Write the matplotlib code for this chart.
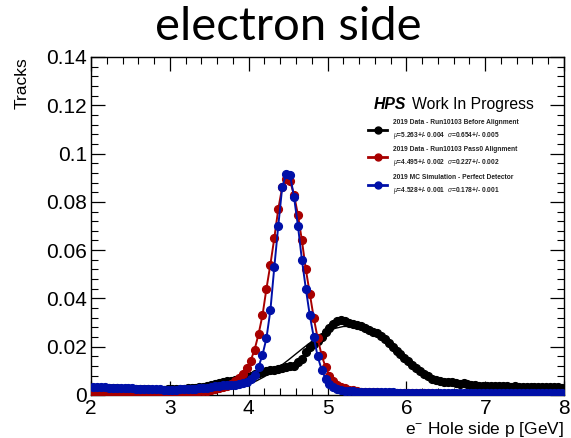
import numpy as np
import matplotlib
matplotlib.use("Agg")
import matplotlib.pyplot as plt
from matplotlib.lines import Line2D
from matplotlib.ticker import MultipleLocator

# ------------ data (bins of 0.05 GeV, 2 -> 8) ------------
bin_edges = np.linspace(2.0, 8.0, 121)
bin_centers = 0.5 * (bin_edges[1:] + bin_edges[:-1])

before_align = [
    0.0030, 0.0029, 0.0030, 0.0028, 0.0028, 0.0027, 0.0027, 0.0026, 0.0026, 0.0025,
    0.0025, 0.0024, 0.0024, 0.0023, 0.0023, 0.0022, 0.0022, 0.0022, 0.0022, 0.0023,
    0.0023, 0.0024, 0.0025, 0.0026, 0.0027, 0.0029, 0.0031, 0.0033, 0.0035, 0.0038,
    0.0041, 0.0044, 0.0048, 0.0052, 0.0056, 0.0060, 0.0064, 0.0068, 0.0072, 0.0076,
    0.0080, 0.0085, 0.0090, 0.0095, 0.0099, 0.0102, 0.0104, 0.0108, 0.0113, 0.0116,
    0.0118, 0.0122, 0.0135, 0.0150, 0.0180, 0.0198, 0.0210, 0.0225, 0.0240, 0.0262,
    0.0278, 0.0292, 0.0305, 0.0310, 0.0307, 0.0300, 0.0295, 0.0290, 0.0284, 0.0278,
    0.0270, 0.0262, 0.0255, 0.0245, 0.0230, 0.0215, 0.0198, 0.0182, 0.0168, 0.0154,
    0.0140, 0.0126, 0.0113, 0.0100, 0.0087, 0.0077, 0.0068, 0.0062, 0.0058, 0.0054,
    0.0052, 0.0055, 0.0050, 0.0047, 0.0049, 0.0045, 0.0042, 0.0040, 0.0039, 0.0038,
    0.0038, 0.0037, 0.0038, 0.0036, 0.0037, 0.0036, 0.0035, 0.0036, 0.0035, 0.0034,
    0.0035, 0.0034, 0.0034, 0.0033, 0.0034, 0.0033, 0.0032, 0.0033, 0.0032, 0.0031,
]

pass0_align = [
    0.0013, 0.0012, 0.0012, 0.0011, 0.0012, 0.0011, 0.0011, 0.0010, 0.0011, 0.0010,
    0.0010, 0.0010, 0.0009, 0.0010, 0.0009, 0.0009, 0.0010, 0.0009, 0.0010, 0.0010,
    0.0010, 0.0011, 0.0011, 0.0012, 0.0012, 0.0013, 0.0014, 0.0015, 0.0016, 0.0018,
    0.0021, 0.0024, 0.0028, 0.0033, 0.0039, 0.0047, 0.0058, 0.0072, 0.0088, 0.0110,
    0.0142, 0.0188, 0.0252, 0.0330, 0.0440, 0.0540, 0.0650, 0.0770, 0.0860, 0.0895,
    0.0885, 0.0830, 0.0745, 0.0640, 0.0520, 0.0420, 0.0320, 0.0235, 0.0165, 0.0115,
    0.0080, 0.0058, 0.0043, 0.0034, 0.0027, 0.0022, 0.0019, 0.0016, 0.0014, 0.0013,
    0.0012, 0.0011, 0.0011, 0.0010, 0.0010, 0.0009, 0.0009, 0.0009, 0.0008, 0.0008,
    0.0008, 0.0008, 0.0007, 0.0007, 0.0007, 0.0007, 0.0007, 0.0006, 0.0006, 0.0006,
    0.0006, 0.0006, 0.0005, 0.0006, 0.0006, 0.0005, 0.0006, 0.0005, 0.0005, 0.0006,
    0.0005, 0.0005, 0.0006, 0.0005, 0.0005, 0.0005, 0.0006, 0.0005, 0.0005, 0.0005,
    0.0005, 0.0005, 0.0005, 0.0004, 0.0005, 0.0005, 0.0004, 0.0005, 0.0004, 0.0005,
]

mc_perfect = [
    0.0035, 0.0034, 0.0033, 0.0032, 0.0031, 0.0031, 0.0030, 0.0029, 0.0028, 0.0028,
    0.0027, 0.0026, 0.0026, 0.0025, 0.0024, 0.0024, 0.0023, 0.0023, 0.0022, 0.0022,
    0.0022, 0.0022, 0.0023, 0.0023, 0.0024, 0.0025, 0.0026, 0.0027, 0.0029, 0.0031,
    0.0033, 0.0036, 0.0038, 0.0040, 0.0041, 0.0042, 0.0043, 0.0045, 0.0048, 0.0054,
    0.0066, 0.0083, 0.0117, 0.0166, 0.0235, 0.0350, 0.0530, 0.0700, 0.0860, 0.0915,
    0.0910, 0.0820, 0.0700, 0.0560, 0.0440, 0.0330, 0.0240, 0.0160, 0.0105, 0.0068,
    0.0045, 0.0032, 0.0025, 0.0021, 0.0018, 0.0016, 0.0015, 0.0014, 0.0013, 0.0013,
    0.0012, 0.0012, 0.0012, 0.0011, 0.0011, 0.0011, 0.0011, 0.0010, 0.0010, 0.0010,
    0.0010, 0.0010, 0.0010, 0.0009, 0.0009, 0.0009, 0.0009, 0.0009, 0.0009, 0.0009,
    0.0009, 0.0008, 0.0008, 0.0008, 0.0008, 0.0008, 0.0008, 0.0008, 0.0008, 0.0008,
    0.0008, 0.0008, 0.0008, 0.0007, 0.0008, 0.0007, 0.0007, 0.0008, 0.0007, 0.0007,
    0.0007, 0.0007, 0.0007, 0.0007, 0.0007, 0.0007, 0.0007, 0.0007, 0.0007, 0.0007,
]

# gaussian fit to the "before alignment" data, sampled from the drawn curve
fit_x = [4.0, 4.1, 4.2, 4.3, 4.4, 4.5, 4.6, 4.7, 4.8, 4.9, 5.0, 5.1, 5.2,
         5.3, 5.4, 5.5, 5.6, 5.7, 5.8, 5.9, 6.0, 6.1, 6.2, 6.3, 6.4, 6.5]
fit_y = [0.00442, 0.00586, 0.00760, 0.00964, 0.01193, 0.01442, 0.01705,
         0.01967, 0.02218, 0.02443, 0.02628, 0.02763, 0.02837, 0.02845,
         0.02788, 0.02668, 0.02496, 0.02280, 0.02035, 0.01774, 0.01510,
         0.01256, 0.01021, 0.00811, 0.00629, 0.00477]

labels = [
    "2019 Data - Run10103 Before Alignment\n$\\mu$=5.263+/- 0.004  $\\sigma$=0.654+/- 0.005",
    "2019 Data - Run10103 Pass0 Alignment\n$\\mu$=4.495+/- 0.002  $\\sigma$=0.227+/- 0.002",
    "2019 MC Simulation - Perfect Detector\n$\\mu$=4.528+/- 0.001  $\\sigma$=0.178+/- 0.001",
]
colors = ["black", "#a80000", "#0010a8"]

# ------------ plot ------------------------------------------------------
plt.rcParams["font.family"] = ["Liberation Sans", "DejaVu Sans"]
plt.rcParams["mathtext.fontset"] = "custom"
plt.rcParams["mathtext.rm"] = "Liberation Sans"
plt.rcParams["mathtext.it"] = "Liberation Sans:italic"

fig = plt.figure(figsize=(5.71, 4.38), dpi=100)
ax = fig.add_axes([0.1594, 0.0982, 0.8284, 0.7717])

series = [before_align, pass0_align, mc_perfect]
handles = []
for i, (vals, col) in enumerate(zip(series, colors)):
    ax.plot(bin_centers, vals, "-o", color=col, lw=1.4, ms=5.6, zorder=2 + i)
    handles.append(Line2D([0], [0], color=col, lw=2.0, marker="o", ms=5.0))
ax.plot(fit_x, fit_y, "-", color="black", lw=1.0, zorder=1.5)

ax.set_xlim(2, 8)
ax.set_ylim(0, 0.14)
ax.xaxis.set_major_locator(MultipleLocator(1))
ax.xaxis.set_minor_locator(MultipleLocator(0.2))
ax.yaxis.set_major_locator(MultipleLocator(0.02))
ax.yaxis.set_minor_locator(MultipleLocator(0.004))
ax.set_yticks([0, 0.02, 0.04, 0.06, 0.08, 0.1, 0.12, 0.14])
ax.set_yticklabels(["0", "0.02", "0.04", "0.06", "0.08", "0.1", "0.12", "0.14"])
ax.tick_params(which="both", direction="in", top=True, right=True, labelsize=15)
ax.tick_params(which="major", length=10, width=0.9)
ax.tick_params(which="minor", length=5, width=0.8)
ax.tick_params(axis="x", pad=3)
ax.tick_params(axis="y", pad=3)
for sp in ax.spines.values():
    sp.set_linewidth(1.0)

ax.set_ylabel("Tracks", fontsize=12.5)
ax.yaxis.set_label_coords(-0.13, 1.0)
ax.yaxis.label.set_ha("right")
ax.set_xlabel(r"e$^{-}$ Hole side p [GeV]", fontsize=12.5)
ax.xaxis.set_label_coords(1.0, -0.075)
ax.xaxis.label.set_ha("right")

fig.text(0.505, 0.89, "electron side", fontsize=34, family=["Lato", "DejaVu Sans"],
         ha="center", va="bottom")

ax.text(0.598, 0.845, "HPS", transform=ax.transAxes, fontsize=11.3,
        fontweight="bold", style="italic", ha="left", va="baseline")
ax.text(0.678, 0.845, "Work In Progress", transform=ax.transAxes, fontsize=11.3,
        ha="left", va="baseline")

leg = ax.legend(handles, labels, loc="upper left", bbox_to_anchor=(0.58, 0.825),
                frameon=False, fontsize=4.8, handlelength=2.9, handletextpad=0.9,
                labelspacing=0.85, borderaxespad=0)
for t in leg.get_texts():
    t.set_fontweight("bold")
    t.set_color("#222222")
    t.set_linespacing(1.55)

fig.savefig("out.png", dpi=100)
